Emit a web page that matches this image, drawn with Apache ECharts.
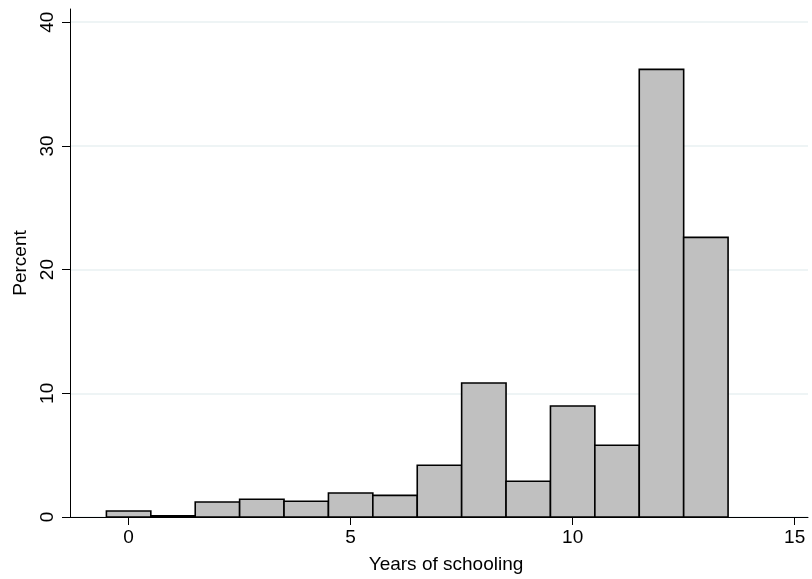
<!DOCTYPE html>
<html>
<head>
<meta charset="utf-8">
<script src="https://cdn.jsdelivr.net/npm/echarts@6/dist/echarts.min.js"></script>
<style>
html,body{margin:0;padding:0;background:#fff;}
#chart{width:812px;height:579px;}
</style>
</head>
<body>
<div id="chart"></div>
<script>
// Data
const years = [0, 1, 2, 3, 4, 5, 6, 7, 8, 9, 10, 11, 12, 13];
const percent = [0.49, 0.1, 1.21, 1.43, 1.27, 1.94, 1.75, 4.18, 10.83, 2.89, 8.97, 5.8, 36.19, 22.61];
const binWidth = 1;
const xTicks = [0, 5, 10, 15];
const yTicks = [0, 10, 20, 30, 40];
const xTitle = 'Years of schooling';
const yTitle = 'Percent';

const FONT = '"Liberation Sans", Arial, Helvetica, sans-serif';
const chart = echarts.init(document.getElementById('chart'), null, {renderer: 'canvas'});

const seriesData = years.map((y, i) => [y, percent[i]]);

chart.setOption({
  animation: false,
  backgroundColor: '#ffffff',
  grid: {left: 70, right: 4, top: 9, bottom: 62, containLabel: false},
  xAxis: {
    type: 'value',
    min: -1.32,
    max: 15.3,
    name: xTitle,
    nameLocation: 'middle',
    nameGap: 38,
    nameTextStyle: {color: '#000', fontSize: 19, fontFamily: FONT, padding: [0, 0, 0, 14]},
    axisLine: {show: true, onZero: false, lineStyle: {color: '#000', width: 1}},
    axisTick: {show: true, length: 8, customValues: xTicks, lineStyle: {color: '#000', width: 1}},
    axisLabel: {customValues: xTicks, color: '#000', fontSize: 19, fontFamily: FONT, margin: 11},
    splitLine: {show: false}
  },
  yAxis: {
    type: 'value',
    min: 0,
    max: 41.07,
    name: yTitle,
    nameLocation: 'middle',
    nameGap: 37,
    nameRotate: 90,
    nameTextStyle: {color: '#000', fontSize: 19, fontFamily: FONT},
    axisLine: {show: true, onZero: false, lineStyle: {color: '#000', width: 1}},
    axisTick: {show: true, length: 8, customValues: yTicks, lineStyle: {color: '#000', width: 1}},
    axisLabel: {customValues: yTicks, rotate: 90, color: '#000', fontSize: 19, fontFamily: FONT, margin: 13},
    splitLine: {show: true, lineStyle: {color: '#e8f0f2', width: 1.5}}
  },
  series: [{
    type: 'custom',
    data: seriesData,
    encode: {x: 0, y: 1},
    renderItem: function (params, api) {
      const x = api.value(0), v = api.value(1);
      const p0 = api.coord([x - binWidth / 2, v]);
      const p1 = api.coord([x + binWidth / 2, 0]);
      return {
        type: 'rect',
        shape: {x: p0[0], y: p0[1], width: p1[0] - p0[0], height: p1[1] - p0[1]},
        style: {fill: '#c0c0c0', stroke: '#000', lineWidth: 1.6}
      };
    }
  }]
});
</script>
</body>
</html>
